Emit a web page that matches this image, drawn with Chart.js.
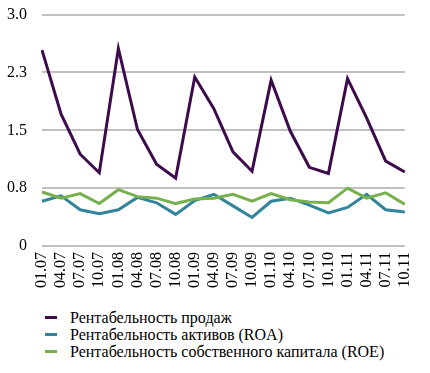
<!DOCTYPE html>
<html>
<head>
<meta charset="utf-8">
<script src="https://cdn.jsdelivr.net/npm/chart.js@4.4.1/dist/chart.umd.min.js"></script>
<style>
  html, body { margin: 0; padding: 0; background: #ffffff; overflow: hidden; }
  #wrap { position: relative; width: 430px; height: 373px; overflow: hidden; }
  #box { position: absolute; left: 0; top: -10px; width: 430px; height: 304px; }
  #legend { position: absolute; left: 45px; top: 309px; font-family: "Liberation Serif", "Times New Roman", serif; font-size: 16px; color: #000; }
  .item { display: flex; align-items: center; height: 17px; }
  .sw { width: 12px; height: 3px; margin-right: 13px; }
</style>
</head>
<body>
<div id="wrap">
  <div id="box"><canvas id="c"></canvas></div>
  <div id="legend"></div>
</div>
<script>
const categories = ["01.07","04.07","07.07","10.07","01.08","04.08","07.08","10.08","01.09","04.09","07.09","10.09","01.10","04.10","07.10","10.10","01.11","04.11","07.11","10.11"];
const salesReturn = [2.54,1.71,1.19,0.95,2.56,1.51,1.06,0.88,2.19,1.78,1.22,0.97,2.15,1.49,1.02,0.94,2.17,1.66,1.10,0.96];
const roaValues = [0.58,0.65,0.47,0.42,0.47,0.63,0.56,0.41,0.59,0.67,0.52,0.37,0.58,0.62,0.53,0.43,0.50,0.67,0.47,0.44];
const roeValues = [0.70,0.62,0.68,0.55,0.73,0.64,0.62,0.55,0.61,0.62,0.67,0.58,0.68,0.60,0.57,0.56,0.75,0.62,0.69,0.54];
const seriesNames = ["Рентабельность продаж","Рентабельность активов (ROA)","Рентабельность собственного капитала (ROE)"];
const seriesColors = ["#3d0b4c","#31849b","#77b14e"];
const yTicks = [0, 0.75, 1.5, 2.25, 3.0];

const font = { family: '"Liberation Serif", "Times New Roman", serif', size: 16 };
const seriesData = [salesReturn, roaValues, roeValues];

new Chart(document.getElementById('c'), {
  type: 'line',
  data: {
    labels: categories,
    datasets: seriesData.map((d, i) => ({
      label: seriesNames[i],
      data: d,
      borderColor: seriesColors[i],
      backgroundColor: seriesColors[i],
      borderWidth: 3,
      pointRadius: 0,
      tension: 0,
      fill: false
    })).reverse()
  },
  options: {
    responsive: true,
    maintainAspectRatio: false,
    animation: false,
    layout: { padding: { top: 0, right: 17, left: 0, bottom: 0 } },
    plugins: { legend: { display: false }, tooltip: { enabled: false } },
    scales: {
      x: {
        offset: false,
        grid: { display: false, drawTicks: false },
        border: { display: false },
        ticks: { color: '#000', font: font, minRotation: 90, maxRotation: 90, autoSkip: false, padding: 6 }
      },
      y: {
        min: 0, max: 3,
        afterBuildTicks: (s) => { s.ticks = yTicks.map(v => ({ value: v })); },
        afterFit: (s) => { s.width = 42; },
        grid: { color: '#c0c0c0', lineWidth: 2, drawTicks: false },
        border: { display: false },
        ticks: {
          color: '#000', font: font, padding: 15,
          callback: (v) => v === 0 ? '0' : Number(v).toFixed(1)
        }
      }
    }
  }
});

const lg = document.getElementById('legend');
seriesNames.forEach((n, i) => {
  const it = document.createElement('div');
  it.className = 'item';
  const sw = document.createElement('span');
  sw.className = 'sw';
  sw.style.background = seriesColors[i];
  const t = document.createElement('span');
  t.textContent = n;
  it.appendChild(sw); it.appendChild(t);
  lg.appendChild(it);
});
</script>
</body>
</html>
